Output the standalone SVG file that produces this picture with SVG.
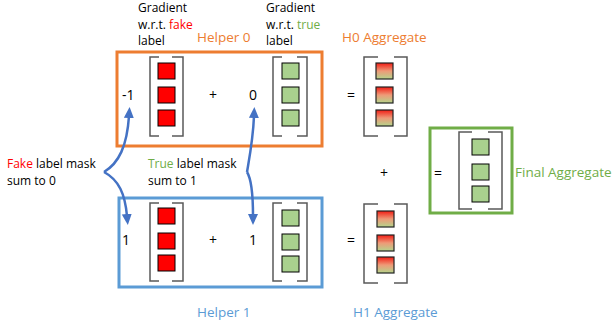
<svg xmlns="http://www.w3.org/2000/svg" width="613" height="328" viewBox="0 0 613 328">
<style>
text{font-family:"Open Sans","Liberation Sans",sans-serif;fill:#000}
.t{font-size:12px}
.n{font-size:14px}
.h{font-size:13.5px}
.red{fill:#FF0000;stroke:#000;stroke-width:1}
.grn{fill:#A9D18E;stroke:#000;stroke-width:1}
.mix{fill:url(#rg);stroke:#222;stroke-width:1.2}
.br{fill:none;stroke:#595959;stroke-width:1.5}
.arr{fill:none;stroke:#4472C4;stroke-width:2.5;marker-end:url(#ah)}
</style>
<defs>
<linearGradient id="rg" x1="0" y1="0" x2="0" y2="1">
<stop offset="0" stop-color="#F21C14"/>
<stop offset="0.5" stop-color="#EE9A78"/>
<stop offset="1" stop-color="#B4D58C"/>
</linearGradient>
<marker id="ah" markerUnits="userSpaceOnUse" markerWidth="12" markerHeight="12" viewBox="0 0 12 12" refX="2" refY="6" orient="auto">
<path d="M0,1 L11,6 L0,11 Z" fill="#4472C4"/>
</marker>
</defs>

<g id="helper0">
<rect x="117" y="52" width="205" height="94" fill="none" stroke="#ED7D31" stroke-width="3"/>
<text class="h" x="197" y="42" style="fill:#ED7D31">Helper 0</text>
</g>

<g id="helper1">
<rect x="119" y="198" width="203" height="89" fill="none" stroke="#5B9BD5" stroke-width="3"/>
<text class="h" x="197" y="317" style="fill:#5B9BD5">Helper 1</text>
</g>

<g id="grad-fake-label">
<text class="t" x="138" y="12">Gradient</text>
<text class="t" x="138" y="29">w.r.t. <tspan style="fill:#FF0000">fake</tspan></text>
<text class="t" x="138" y="45">label</text>
</g>

<g id="grad-true-label">
<text class="t" x="266" y="12">Gradient</text>
<text class="t" x="266" y="29">w.r.t. <tspan style="fill:#70AD47">true</tspan></text>
<text class="t" x="266" y="45">label</text>
</g>

<g id="h0-fake">
<text class="n" x="122" y="100">-1</text>
<path class="br" d="M159,57 H150 V136 H159 M172,57 H183 V136 H172"/>
<rect class="red" x="158" y="63" width="17" height="16"/>
<rect class="red" x="158" y="87" width="17" height="16"/>
<rect class="red" x="158" y="110" width="17" height="16"/>
</g>
<text class="n" x="209" y="100">+</text>
<g id="h0-true">
<text class="n" x="249" y="100">0</text>
<path class="br" d="M282,57 H273 V136 H282 M297,57 H307 V136 H297"/>
<rect class="grn" x="282" y="63" width="17" height="16"/>
<rect class="grn" x="282" y="87" width="17" height="16"/>
<rect class="grn" x="282" y="110" width="17" height="16"/>
</g>

<g id="h0-aggregate">
<text class="n" x="347" y="100">=</text>
<path class="br" d="M378,57 H364 V136 H378 M394,57 H407 V136 H394"/>
<rect class="mix" x="376" y="63" width="17" height="16"/>
<rect class="mix" x="376" y="87" width="17" height="16"/>
<rect class="mix" x="376" y="110" width="17" height="16"/>
<text class="h" x="342" y="42" style="fill:#ED7D31">H0 Aggregate</text>
</g>

<g id="h1-fake">
<text class="n" x="122" y="245">1</text>
<path class="br" d="M159,203 H150 V281 H159 M172,203 H183 V281 H172"/>
<rect class="red" x="158" y="208" width="17" height="16"/>
<rect class="red" x="158" y="233" width="17" height="16"/>
<rect class="red" x="158" y="255" width="17" height="16"/>
</g>
<text class="n" x="209" y="245">+</text>
<g id="h1-true">
<text class="n" x="249" y="245">1</text>
<path class="br" d="M282,203 H273 V281 H282 M297,203 H307 V281 H297"/>
<rect class="grn" x="282" y="210" width="17" height="16"/>
<rect class="grn" x="282" y="234" width="17" height="16"/>
<rect class="grn" x="282" y="256" width="17" height="16"/>
</g>

<g id="h1-aggregate">
<text class="n" x="347" y="245">=</text>
<path class="br" d="M378,204 H364 V283 H378 M394,204 H407 V283 H394"/>
<rect class="mix" x="377" y="211" width="17" height="16"/>
<rect class="mix" x="377" y="235" width="17" height="16"/>
<rect class="mix" x="377" y="257" width="17" height="16"/>
<text class="h" x="353" y="317" style="fill:#5B9BD5">H1 Aggregate</text>
</g>

<text class="n" x="380" y="178">+</text>

<g id="final-aggregate">
<rect x="430" y="128" width="82" height="85" fill="none" stroke="#70AD47" stroke-width="3"/>
<text class="n" x="434" y="178">=</text>
<path class="br" d="M472,132 H459 V209 H472 M488,132 H502 V209 H488"/>
<rect class="grn" x="472" y="139" width="17" height="16"/>
<rect class="grn" x="472" y="164" width="17" height="16"/>
<rect class="grn" x="472" y="186" width="17" height="16"/>
<text class="h" x="515" y="177" style="fill:#70AD47">Final Aggregate</text>
</g>

<g id="fake-mask-label">
<text class="t" x="7" y="168"><tspan style="fill:#FF0000">Fake</tspan> label mask</text>
<text class="t" x="7" y="185">sum to 0</text>
</g>
<g id="true-mask-label">
<text class="t" x="148" y="168"><tspan style="fill:#70AD47">True</tspan> label mask</text>
<text class="t" x="148" y="185">sum to 1</text>
</g>

<g id="connectors">
<path class="arr" d="M104,172 C119,163 127,146 129,116"/>
<path class="arr" d="M104,172 C119,180 125,194 127,216"/>
<path class="arr" d="M247,172 C249,160 253,140 254,116"/>
<path class="arr" d="M247,172 C252,180 253,198 253,216"/>
</g>
</svg>
